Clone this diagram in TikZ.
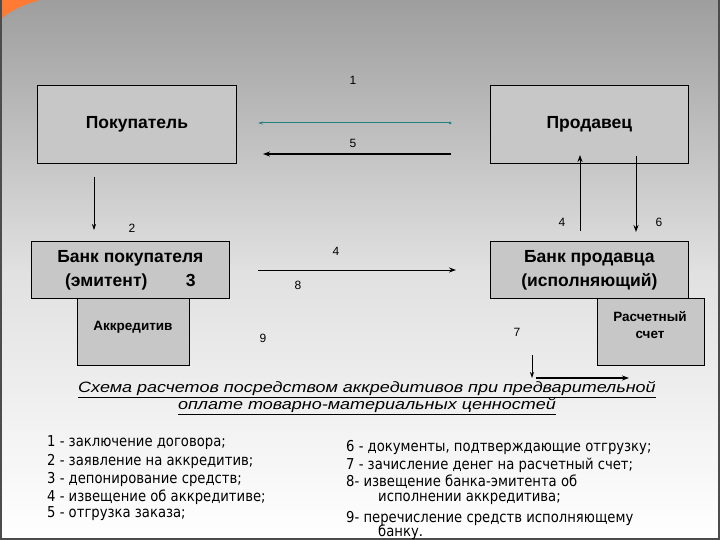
\documentclass[tikz,border=0pt]{standalone}
\usepackage{fontspec}
\setmainfont{Liberation Sans}
\newfontfamily\condf{DejaVu Sans}[FakeStretch=0.88]
\newfontfamily\widef{Liberation Sans}[FakeStretch=1.2]
\usetikzlibrary{arrows.meta}
\begin{document}
\begin{tikzpicture}[x=1pt,y=-1pt,
  box/.style={draw=black,fill=black!22,line width=0.8pt,inner sep=0pt,anchor=north west},
  lbl/.style={font=\fontsize{12}{14}\selectfont},
  big/.style={font=\bfseries\fontsize{17.5}{24}\selectfont,align=center},
  arr/.style={-{Stealth[length=7pt,width=5pt]},line width=1.2pt},
  tarr/.style={-{Stealth[length=6pt,width=4pt]},line width=0.7pt},
  lst/.style={anchor=west,inner sep=1pt,font=\condf\fontsize{15}{16}\selectfont}]
\useasboundingbox (0,0) rectangle (720,540);
\shade[top color=black!38,bottom color=white,middle color=black!12] (0,0) rectangle (720,540);
\fill[orange!70!red!80!white] (0,0) -- (40,0) .. controls (22,5) and (8,12) .. (0,20) -- cycle;
\draw[black!70,line width=1.5pt] (1,0) -- (1,540) (0,539) -- (720,539) (719,0) -- (719,540);
% boxes
\node[box,minimum width=199pt,minimum height=78pt] (pok) at (37,85) {};
\node[big] at (pok.center) {Покупатель};
\node[box,minimum width=198pt,minimum height=78pt] (prod) at (490,85) {};
\node[big] at (prod.center) {Продавец};
\node[box,minimum width=112pt,minimum height=67pt] (akk) at (77,298) {};
\node[font=\bfseries\fontsize{13.5}{16}\selectfont] at (133,327) {Аккредитив};
\node[box,minimum width=198pt,minimum height=57pt] (bp) at (31,241) {};
\node[big] at (bp.center) {Банк покупателя\\(эмитент)\hspace{2.2em}3};
\node[box,minimum width=107pt,minimum height=67pt] (rs) at (597,298) {};
\node[font=\bfseries\fontsize{13.5}{17}\selectfont,align=center] at (650,325) {Расчетный\\счет};
\node[box,minimum width=198pt,minimum height=57pt] (bs) at (490,241) {};
\node[big] at (bs.center) {Банк продавца\\(исполняющий)};
% connectors
\coordinate (a1) at (450,123); \coordinate (b1) at (258,123);
\draw[-{Stealth[length=5pt,width=3pt]},teal!70!gray,line width=1pt] (a1) -- (b1);
\fill[teal!70!gray] (a1) circle (1.5pt);
\coordinate (a5) at (451,154); \coordinate (b5) at (263,154);
\draw[arr] (a5) -- (b5);
\coordinate (a2) at (94,177); \coordinate (b2) at (94,230);
\draw[tarr] (a2) -- (b2);
\coordinate (a4) at (258,270); \coordinate (b4) at (456,270);
\draw[arr,line width=1pt] (a4) -- (b4);
\coordinate (u1) at (580,231); \coordinate (u2) at (580,155);
\draw[arr,line width=1pt] (u1) -- (u2);
\coordinate (d1) at (636,156); \coordinate (d2) at (636,232);
\draw[arr,line width=1pt] (d1) -- (d2);
\coordinate (s1) at (532,355); \coordinate (s2) at (532,378);
\draw[tarr] (s1) -- (s2);
\coordinate (h1) at (536,378); \coordinate (h2) at (629,378);
\draw[arr] (h1) -- (h2);
% labels
\node[lbl] (l1) at (353,80) {1};
\node[lbl] (l5) at (353,143) {5};
\node[lbl] (l2) at (132,228) {2};
\node[lbl] (l4a) at (336,251) {4};
\node[lbl] (l8) at (298,285) {8};
\node[lbl] (l4b) at (562,222) {4};
\node[lbl] (l6) at (659,222) {6};
\node[lbl] (l9) at (263,338) {9};
\node[lbl] (l7) at (517,332) {7};
% title
\node[font=\widef\itshape\fontsize{15}{15}\selectfont,align=center] (t) at (367,398)
 {\underline{Схема расчетов посредством аккредитивов при предварительной}\\\underline{оплате товарно-материальных ценностей}};
% lists
\node[lst] (i1) at (46,443) {1 - заключение договора;};
\node[lst] (i2) at (46,461) {2 - заявление на аккредитив;};
\node[lst] (i3) at (46,479) {3 - депонирование средств;};
\node[lst] (i4) at (46,497) {4 - извещение об аккредитиве;};
\node[lst] (i5) at (46,514) {5 - отгрузка заказа;};
\node[lst] (j6) at (345,447) {6 - документы, подтверждающие отгрузку;};
\node[lst] (j7) at (345,465) {7 - зачисление денег на расчетный счет;};
\node[lst] (j8) at (345,482) {8- извещение банка-эмитента об};
\node[lst] (j8b) at (377,499) {исполнении аккредитива;};
\node[lst] (j9) at (345,518) {9- перечисление средств исполняющему};
\node[lst] (j9b) at (377,532) {банку.};
\end{tikzpicture}
\end{document}
